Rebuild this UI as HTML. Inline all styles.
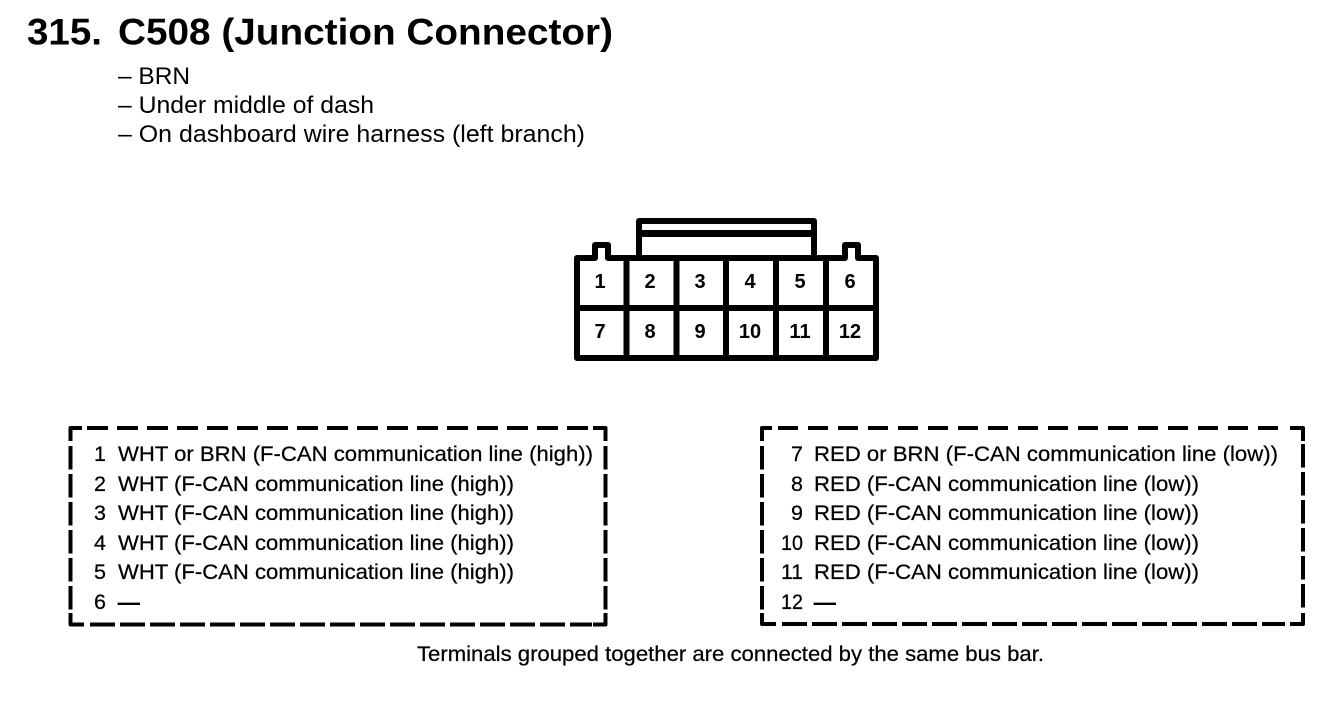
<!DOCTYPE html>
<html>
<head>
<meta charset="utf-8">
<style>
html,body{margin:0;padding:0;background:#fff;width:1328px;height:712px;overflow:hidden}
svg{display:block}
text{font-family:"Liberation Sans",Arial,sans-serif;fill:#000}
.t{font-size:21.5px;stroke:#000;stroke-width:.25px}
.n{font-size:21.5px;text-anchor:end;stroke:#000;stroke-width:.25px}
.e{font-size:21.5px;stroke:#000;stroke-width:.9px}
.l{font-size:24px}
.c{font-size:20px;font-weight:bold;text-anchor:middle}
.d{fill:none;stroke:#000;stroke-width:4px;stroke-linejoin:round}
</style>
</head>
<body>
<svg width="1328" height="712" viewBox="0 0 1328 712" xmlns="http://www.w3.org/2000/svg">
<text x="27" y="44.500" font-size="37" font-weight="bold" textLength="75" lengthAdjust="spacingAndGlyphs">315.</text>
<text x="118" y="44.500" font-size="37" font-weight="bold" textLength="495" lengthAdjust="spacingAndGlyphs">C508 (Junction Connector)</text>
<text class="l" x="118" y="84" textLength="72" lengthAdjust="spacingAndGlyphs">– BRN</text>
<text class="l" x="118" y="113" textLength="256" lengthAdjust="spacingAndGlyphs">– Under middle of dash</text>
<text class="l" x="118" y="142" textLength="467" lengthAdjust="spacingAndGlyphs">– On dashboard wire harness (left branch)</text>

<!-- connector -->
<g fill="none" stroke="#000" stroke-width="6" stroke-linejoin="round">
<path d="M639 256V221H814V256" />
<path d="M639 233.500H814" stroke-width="7"/>
<path d="M577 258H595V245H608V258H845V245H858V258H876V358H577Z"/>
<path d="M577 308H876M626.500 258V358M676.500 258V358M726 258V358M776 258V358M826 258V358"/>
</g>
<rect x="598" y="255" width="7" height="7" fill="#fff"/>
<rect x="848" y="255" width="7" height="7" fill="#fff"/>
<g class="c">
<text class="c" x="600" y="288">1</text><text class="c" x="650" y="288">2</text><text class="c" x="700" y="288">3</text><text class="c" x="750" y="288">4</text><text class="c" x="800" y="288">5</text><text class="c" x="850" y="288">6</text>
<text class="c" x="600" y="338">7</text><text class="c" x="650" y="338">8</text><text class="c" x="700" y="338">9</text><text class="c" x="750" y="338">10</text><text class="c" x="800" y="338">11</text><text class="c" x="850" y="338">12</text>
</g>

<!-- left dashed box -->
<path class="d" d="M70.500 441V428H82"/>
<path class="d" d="M87 428H592" stroke-dasharray="21 9"/>
<path class="d" d="M593 428H605.500V441"/>
<path class="d" d="M70.500 446V610" stroke-dasharray="23.500 4.500"/>
<path class="d" d="M605.500 446V610" stroke-dasharray="23.500 4.500"/>
<path class="d" d="M70.500 613V624.500H84"/>
<path class="d" d="M90 624.500H592" stroke-dasharray="25 5"/>
<path class="d" d="M593 624.500H605.500V613"/>

<!-- right dashed box -->
<path class="d" d="M762 441V428H772"/>
<path class="d" d="M778 428H1285" stroke-dasharray="20 10"/>
<path class="d" d="M1290 428H1303V441"/>
<path class="d" d="M762 446V610" stroke-dasharray="23.500 4.500"/>
<path class="d" d="M1303 444V610" stroke-dasharray="23.500 4.500"/>
<path class="d" d="M762 613V624H776"/>
<path class="d" d="M782 624H1285" stroke-dasharray="25 5"/>
<path class="d" d="M1290 624H1303V613"/>

<!-- left rows -->
<text class="n" x="106" y="461">1</text><text class="t" x="118" y="461" textLength="475" lengthAdjust="spacingAndGlyphs">WHT or BRN (F-CAN communication line (high))</text>
<text class="n" x="106" y="491">2</text><text class="t" x="118" y="491" textLength="396" lengthAdjust="spacingAndGlyphs">WHT (F-CAN communication line (high))</text>
<text class="n" x="106" y="520">3</text><text class="t" x="118" y="520" textLength="396" lengthAdjust="spacingAndGlyphs">WHT (F-CAN communication line (high))</text>
<text class="n" x="106" y="550">4</text><text class="t" x="118" y="550" textLength="396" lengthAdjust="spacingAndGlyphs">WHT (F-CAN communication line (high))</text>
<text class="n" x="106" y="579">5</text><text class="t" x="118" y="579" textLength="396" lengthAdjust="spacingAndGlyphs">WHT (F-CAN communication line (high))</text>
<text class="n" x="106" y="609">6</text><text class="e" x="118" y="609">—</text>

<!-- right rows -->
<text class="n" x="803" y="461">7</text><text class="t" x="814" y="461" textLength="464" lengthAdjust="spacingAndGlyphs">RED or BRN (F-CAN communication line (low))</text>
<text class="n" x="803" y="491">8</text><text class="t" x="814" y="491" textLength="385" lengthAdjust="spacingAndGlyphs">RED (F-CAN communication line (low))</text>
<text class="n" x="803" y="520">9</text><text class="t" x="814" y="520" textLength="385" lengthAdjust="spacingAndGlyphs">RED (F-CAN communication line (low))</text>
<text class="n" x="803" y="550" textLength="22" lengthAdjust="spacingAndGlyphs">10</text><text class="t" x="814" y="550" textLength="385" lengthAdjust="spacingAndGlyphs">RED (F-CAN communication line (low))</text>
<text class="n" x="803" y="579" textLength="22" lengthAdjust="spacingAndGlyphs">11</text><text class="t" x="814" y="579" textLength="385" lengthAdjust="spacingAndGlyphs">RED (F-CAN communication line (low))</text>
<text class="n" x="803" y="609" textLength="22" lengthAdjust="spacingAndGlyphs">12</text><text class="e" x="814" y="609">—</text>

<text class="t" x="417" y="661" textLength="627" lengthAdjust="spacingAndGlyphs">Terminals grouped together are connected by the same bus bar.</text>
</svg>
</body>
</html>
